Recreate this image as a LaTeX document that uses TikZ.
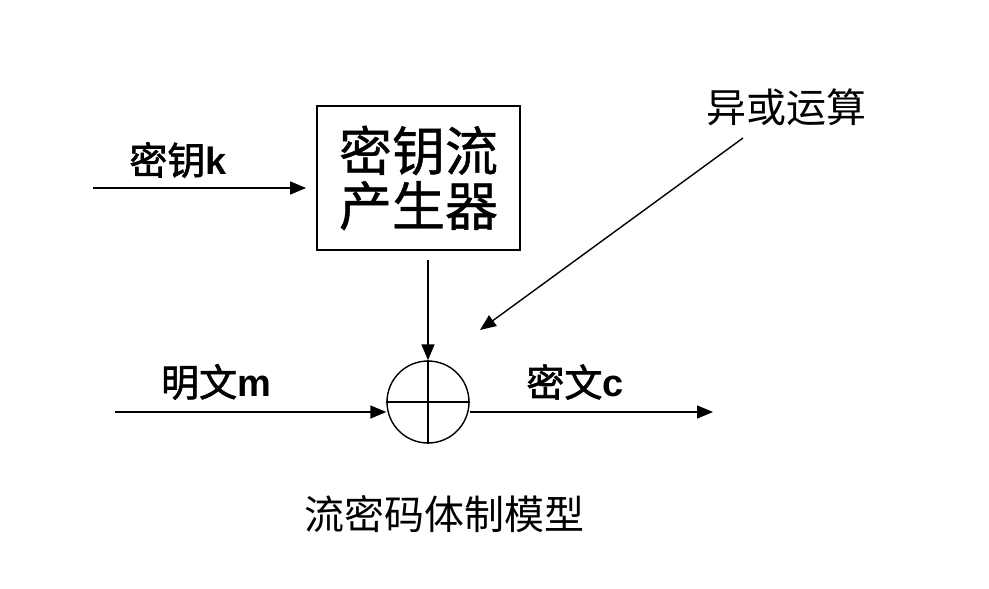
\documentclass[tikz,border=0pt]{standalone}
\usepackage{fontspec}
\newfontfamily\cjk{Noto Sans CJK SC}
\newfontfamily\cjkm{Noto Sans CJK SC}[FakeBold=0.8]
\newfontfamily\cjkh{Noto Sans CJK SC}[FakeBold=1.8]
\newfontfamily\latb{Liberation Sans}
\usetikzlibrary{arrows.meta}
\begin{document}
\begin{tikzpicture}[x=1pt,y=-1pt,
  wire/.style={line width=1.4pt,-{Triangle[length=16pt,width=13pt]}},
  genbox/.style={draw,line width=1.8pt,minimum width=203pt,minimum height=144pt,inner sep=0pt,
    align=center,font=\cjkm\fontsize{53}{60}\selectfont},
  xorsym/.style={draw,line width=1.4pt,circle,minimum size=82pt,inner sep=0pt},
  siglabel/.style={inner sep=0pt,font=\fontsize{38}{42}\selectfont},
  note/.style={inner sep=0pt,font=\cjk\fontsize{40}{44}\selectfont}]
\useasboundingbox[fill=white] (0,0) rectangle (989,589);

% keystream generator and XOR combiner
\node[genbox] (gen) at (418.5,178) {密钥流\\[-5pt]产生器};
\node[xorsym] (xor) at (428,402) {};
\draw[line width=1.4pt] (xor.north) -- (xor.south) (xor.west) -- (xor.east);

% signal labels
\node[siglabel] (klbl) at (178,160) {{\cjkh 密钥}{\latb\bfseries k}};
\node[siglabel] (mlbl) at (216,382) {{\cjkh 明文}{\latb\bfseries m}};
\node[siglabel] (clbl) at (575,382) {{\cjkh 密文}{\latb\bfseries c}};
\node[note] (oplbl) at (786,107) {异或运算};
\node[note] (title) at (444,514) {流密码体制模型};

% free ends of the connectors
\coordinate (kin) at (93,188);
\coordinate (min) at (115,412);
\coordinate (cout) at (713,412);
\coordinate (dstart) at (743,138);
\coordinate (dend) at (480,330);

% connectors
\draw[wire,shorten >=10pt] (kin) -- (kin -| gen.west);
\draw[wire,shorten <=9pt] (gen.south -| xor.north) -- (xor.north);
\draw[wire] (min) -- (min -| xor.west);
\draw[wire] (min -| xor.east) -- (cout);
\draw[wire] (dstart) -- (dend);
\end{tikzpicture}
\end{document}
